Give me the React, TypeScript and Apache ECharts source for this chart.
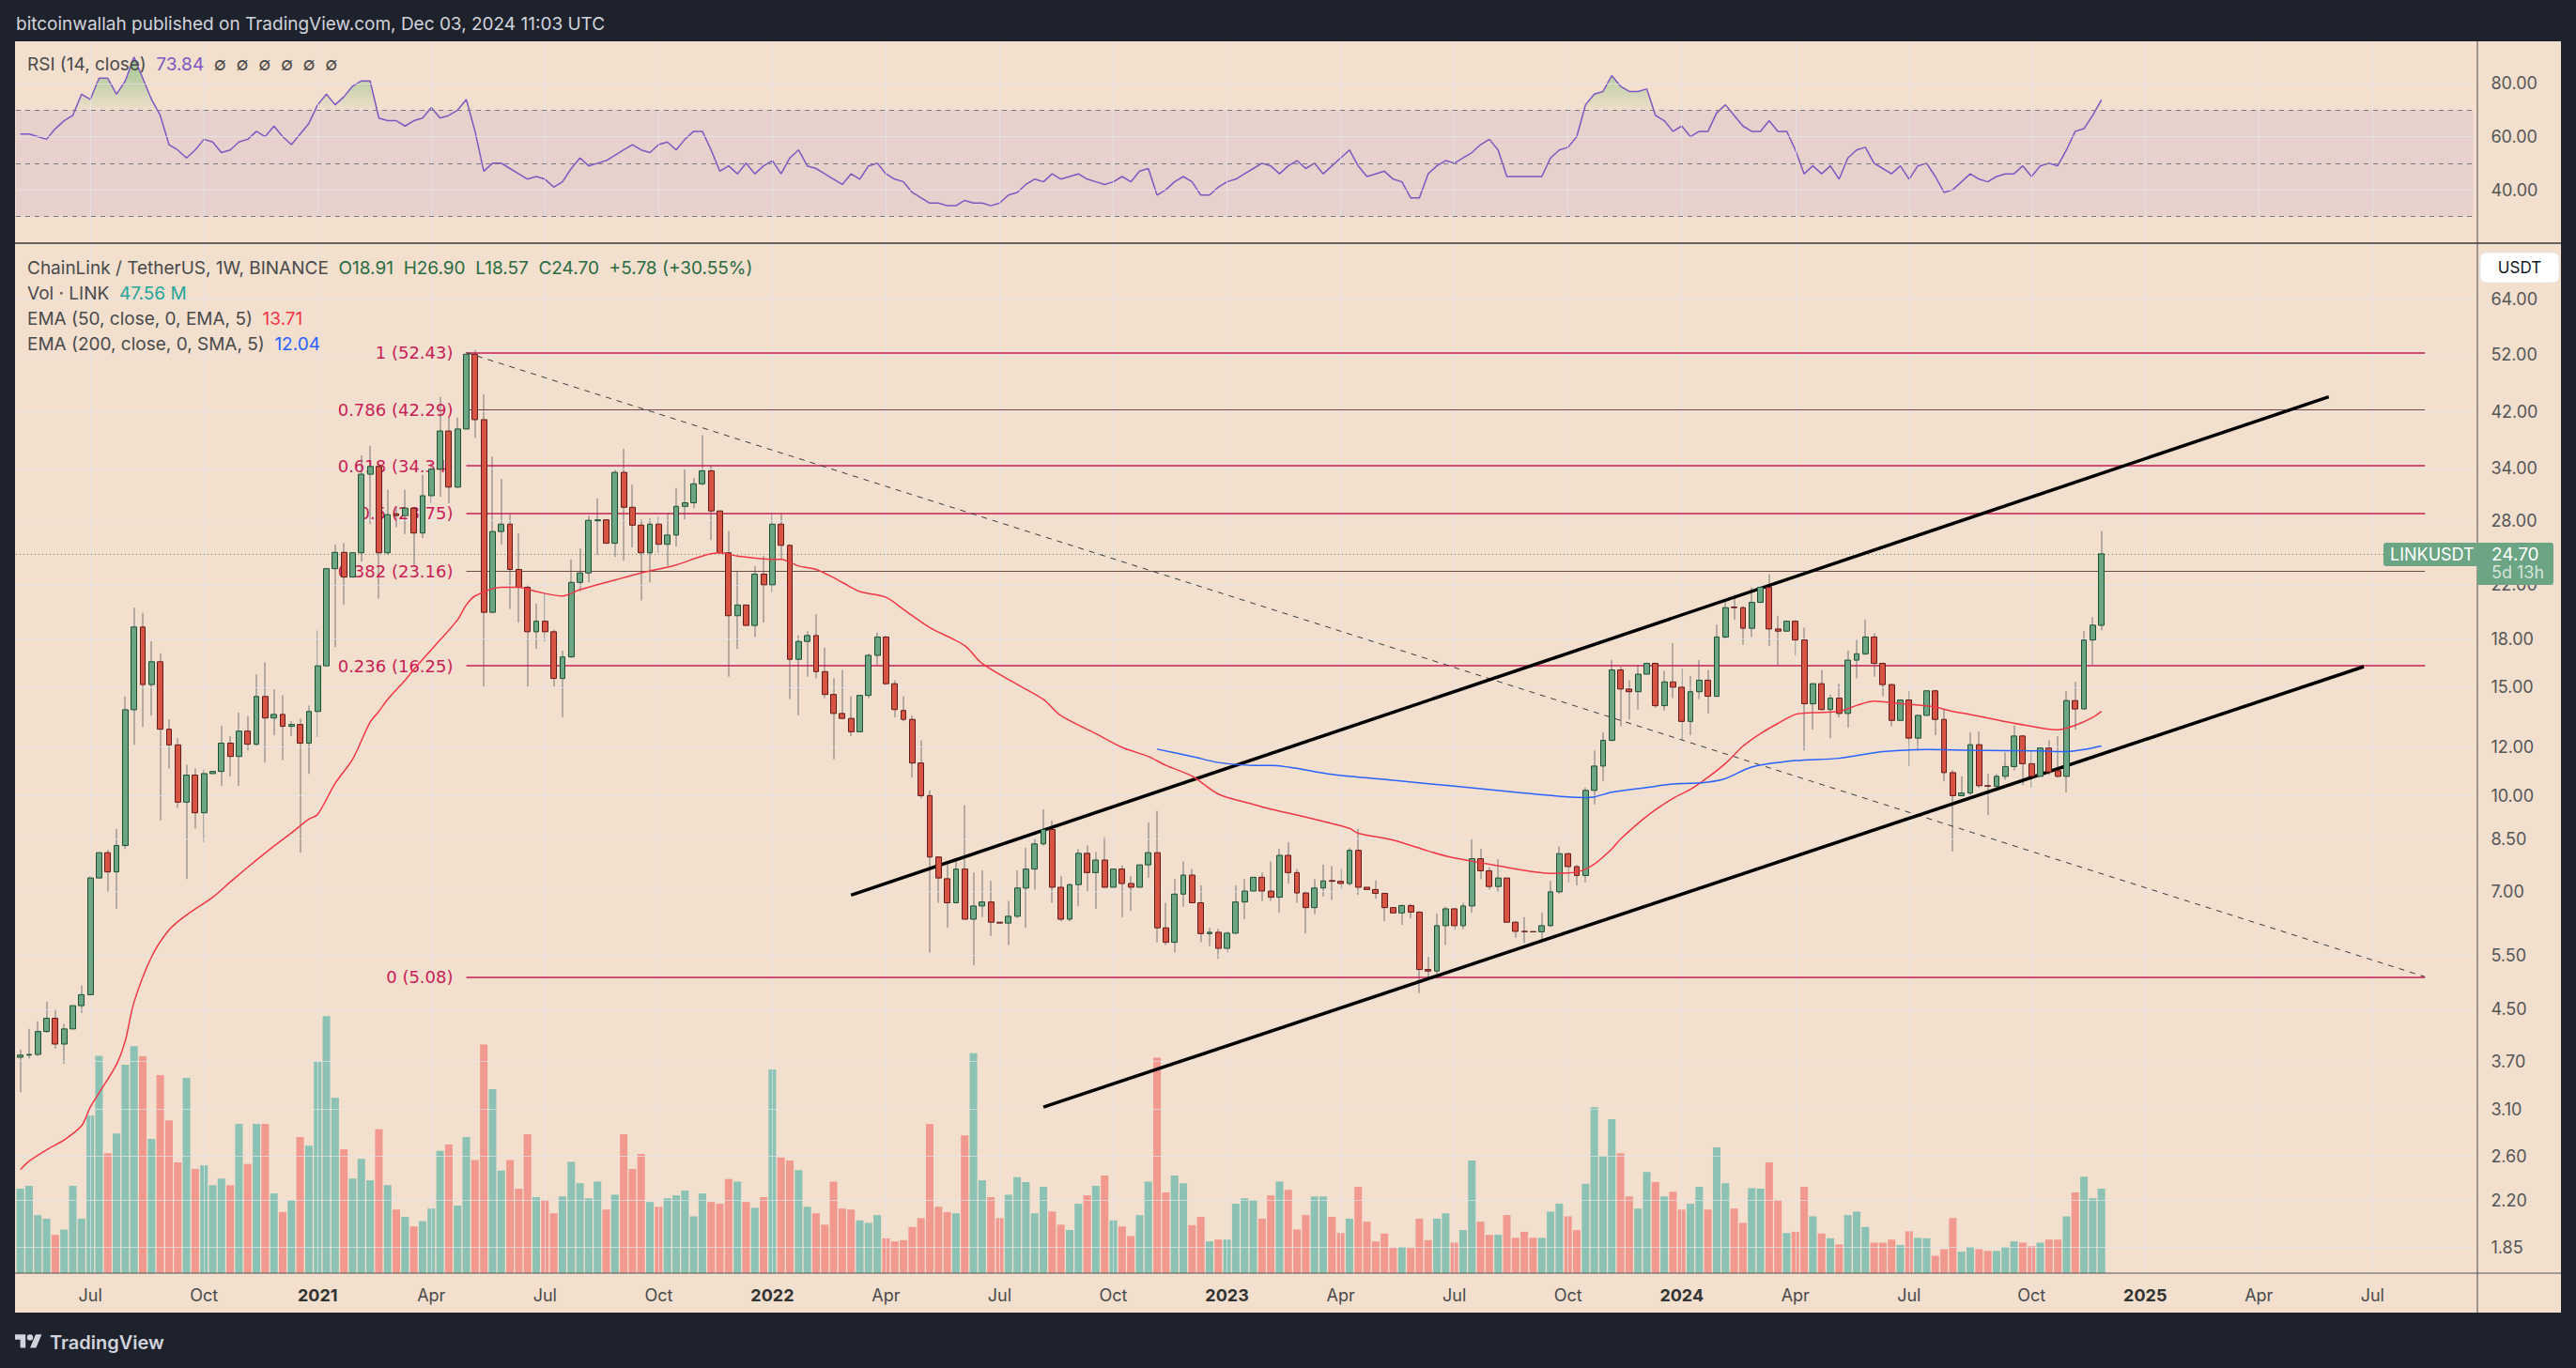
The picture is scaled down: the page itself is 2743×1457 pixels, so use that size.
import React, { useEffect, useRef } from "react";
import * as echarts from "echarts";

const W = 2743;
const H = 1457;
const FONT = "Inter, Roboto, sans-serif";
const BEIGE = "#f2dfce";
const DARK = "#1e222d";
const GRID_COLOR = "rgba(228,230,238,0.65)";
const UP = "#6ba583";
const DOWN = "#d75442";
const CRIMSON = "#c81e55";
const FIB_DARK = "#6d4a4a";

// ---------- data (weekly, from 2020-05-11) ----------
const START_UTC = Date.UTC(2020, 4, 11);
const N_WEEKS = 281;

const OPEN = [
  3.76, 3.79, 3.80, 4.14, 4.35, 3.95, 4.18, 4.56, 4.75, 7.35,
  8.08, 7.52, 8.30, 13.79, 18.79, 15.15, 16.50, 12.82, 12.09, 9.76,
  10.80, 9.38, 10.86, 10.95, 12.17, 11.58, 12.73, 12.12, 14.49, 13.37,
  13.55, 12.96, 13.05, 12.17, 13.70, 16.25, 23.37, 24.84, 22.65, 24.80,
  33.27, 34.25, 24.80, 28.70, 28.50, 29.30, 26.70, 30.70, 33.90, 39.10,
  31.70, 39.40, 52.10, 40.80, 19.85, 26.85, 27.60, 23.30, 21.80, 18.46,
  19.20, 18.46, 15.50, 16.80, 22.20, 23.00, 27.95, 28.05, 25.70, 33.50,
  29.40, 27.50, 24.80, 27.60, 25.60, 26.50, 29.50, 29.90, 32.10, 33.70,
  29.00, 24.80, 19.60, 20.40, 18.90, 22.90, 22.00, 27.60, 25.50, 16.65,
  17.80, 18.20, 15.90, 14.60, 13.60, 13.35, 12.70, 14.55, 16.90, 18.10,
  15.20, 13.75, 13.30, 11.30, 10.00, 7.95, 7.33, 6.70, 7.60, 6.30,
  6.62, 6.72, 6.23, 6.21, 6.37, 7.08, 7.60, 8.35, 8.81, 7.10,
  6.30, 7.17, 8.06, 7.50, 7.86, 7.10, 7.60, 7.20, 7.10, 7.72,
  8.08, 6.10, 5.78, 6.92, 7.43, 6.70, 5.97, 6.00, 5.65, 5.98,
  6.72, 7.00, 7.37, 7.00, 6.84, 8.00, 7.50, 6.95, 6.58, 7.08,
  7.28, 7.26, 7.20, 8.15, 7.10, 7.04, 6.94, 6.58, 6.45, 6.63,
  6.47, 5.22, 5.19, 6.15, 6.55, 6.15, 6.62, 7.90, 7.55, 7.12,
  7.35, 6.23, 6.02, 6.015, 6.01, 6.15, 6.98, 8.05, 7.67, 7.42,
  10.20, 11.17, 12.30, 16.00, 14.90, 14.75, 15.75, 16.40, 14.00, 15.30,
  15.00, 13.20, 14.75, 15.40, 14.50, 18.10, 20.25, 20.20, 18.70, 20.60,
  21.80, 18.65, 18.50, 19.20, 17.90, 14.10, 15.20, 13.80, 14.40, 13.60,
  16.60, 17.00, 18.10, 16.40, 15.15, 13.25, 14.30, 12.40, 13.50, 14.80,
  13.30, 10.90, 10.00, 10.10, 12.10, 10.38, 10.36, 10.75, 11.15, 12.50,
  11.27, 10.75, 11.95, 10.98, 10.75, 14.27, 13.83, 17.90, 18.91,
];

const HIGH = [
  3.87, 4.18, 4.30, 4.63, 4.50, 4.26, 4.97, 4.92, 7.40, 8.90,
  8.17, 8.83, 14.49, 20.20, 19.80, 17.81, 17.03, 13.30, 12.40, 11.23,
  11.07, 11.03, 11.84, 12.99, 12.49, 13.64, 13.46, 15.74, 16.46, 14.88,
  14.55, 13.20, 13.35, 14.00, 18.54, 23.70, 25.60, 25.70, 27.30, 35.70,
  37.00, 34.70, 31.40, 29.50, 31.40, 29.40, 33.20, 34.70, 44.40, 41.10,
  41.10, 52.50, 52.88, 44.80, 35.50, 32.70, 28.70, 26.70, 22.00, 20.50,
  21.30, 18.60, 17.20, 24.20, 25.20, 28.50, 30.40, 29.50, 33.80, 36.60,
  32.00, 28.10, 28.20, 28.40, 28.80, 31.60, 33.90, 32.80, 38.50, 34.40,
  29.10, 26.90, 23.20, 20.50, 23.60, 24.50, 28.70, 28.70, 25.60, 18.20,
  18.50, 19.70, 17.40, 15.50, 16.00, 14.50, 15.40, 17.00, 18.40, 18.20,
  15.40, 14.50, 13.50, 12.30, 10.20, 7.96, 7.75, 7.85, 9.65, 7.50,
  7.56, 7.27, 6.82, 6.75, 7.56, 8.23, 8.52, 9.50, 9.10, 7.40,
  7.20, 8.19, 8.30, 8.10, 8.56, 7.93, 7.70, 7.40, 7.90, 9.05,
  9.45, 6.70, 7.32, 7.82, 7.60, 7.15, 6.10, 6.08, 6.02, 7.15,
  7.32, 7.56, 7.50, 7.82, 8.20, 8.40, 7.60, 7.00, 7.32, 7.73,
  7.68, 7.60, 8.22, 8.83, 7.50, 7.28, 6.96, 6.82, 6.66, 6.67,
  6.49, 5.47, 6.43, 6.60, 6.58, 6.70, 8.50, 8.20, 7.65, 7.88,
  7.60, 6.25, 6.35, 6.48, 6.45, 7.27, 8.27, 8.10, 7.72, 10.30,
  11.84, 12.66, 16.60, 16.20, 15.40, 16.30, 17.40, 16.45, 15.95, 17.70,
  16.10, 15.65, 16.60, 16.00, 18.95, 20.70, 21.20, 20.30, 21.80, 21.90,
  22.90, 19.60, 21.00, 19.30, 18.75, 15.25, 16.00, 14.60, 15.20, 17.20,
  17.90, 19.30, 18.35, 16.45, 15.20, 14.70, 14.80, 13.55, 15.20, 14.85,
  13.80, 11.00, 10.75, 12.67, 12.70, 10.85, 10.85, 11.76, 13.00, 12.55,
  11.84, 12.00, 12.30, 12.50, 14.80, 15.30, 18.50, 19.50, 26.90,
];

const LOW = [
  3.30, 3.74, 3.78, 4.12, 3.88, 3.67, 4.17, 4.44, 4.74, 6.89,
  6.97, 6.55, 8.19, 12.09, 12.93, 13.49, 9.12, 11.07, 9.55, 7.32,
  8.83, 8.41, 10.31, 10.37, 10.75, 10.37, 11.84, 12.04, 11.32, 12.54,
  11.42, 12.50, 8.08, 10.85, 12.45, 12.56, 17.42, 20.40, 21.75, 24.00,
  27.60, 20.90, 24.60, 27.30, 26.60, 23.70, 26.20, 29.85, 30.60, 29.85,
  31.60, 38.80, 38.10, 15.05, 19.80, 25.60, 20.10, 19.10, 15.05, 17.30,
  17.80, 15.05, 13.40, 16.75, 21.50, 22.20, 24.60, 24.20, 24.40, 24.10,
  25.30, 20.75, 22.20, 24.80, 23.60, 25.40, 28.10, 29.30, 31.90, 26.00,
  22.80, 15.60, 17.30, 17.30, 18.10, 19.10, 21.40, 24.20, 14.35, 13.50,
  15.60, 15.50, 14.40, 11.45, 13.30, 12.50, 12.60, 14.40, 16.30, 15.10,
  13.40, 13.20, 10.70, 9.90, 5.56, 6.70, 6.10, 6.68, 6.30, 5.30,
  6.35, 5.92, 6.05, 5.72, 6.33, 6.10, 7.04, 8.30, 6.70, 6.25,
  6.25, 6.62, 6.98, 6.55, 7.08, 6.98, 6.35, 6.50, 6.80, 7.36,
  5.78, 5.72, 5.56, 6.60, 6.70, 5.78, 5.70, 5.43, 5.56, 5.96,
  6.30, 6.55, 6.75, 6.75, 6.45, 7.20, 6.70, 5.97, 6.42, 6.86,
  6.77, 7.07, 7.15, 6.90, 6.90, 6.80, 6.25, 6.36, 6.17, 6.32,
  4.78, 5.07, 5.04, 5.72, 6.05, 6.07, 6.46, 7.32, 7.04, 6.97,
  5.60, 5.88, 5.76, 5.99, 5.78, 6.12, 6.92, 7.23, 7.15, 7.23,
  9.68, 10.55, 12.25, 12.96, 13.30, 13.80, 14.70, 13.90, 13.75, 14.40,
  12.30, 12.54, 14.35, 13.60, 14.45, 17.95, 19.30, 17.60, 18.10, 16.60,
  17.50, 16.30, 18.45, 16.90, 11.84, 12.80, 13.75, 12.40, 13.40, 12.90,
  15.50, 16.90, 15.60, 14.50, 12.96, 12.73, 11.17, 11.84, 13.40, 12.54,
  10.55, 8.12, 9.98, 10.02, 10.30, 9.30, 10.30, 10.60, 10.98, 10.40,
  10.30, 10.65, 10.80, 10.70, 10.12, 12.80, 13.80, 16.30, 18.57,
];

const CLOSE = [
  3.79, 3.80, 4.14, 4.35, 3.95, 4.18, 4.56, 4.75, 7.35, 8.08,
  7.52, 8.30, 13.79, 18.79, 15.15, 16.50, 12.82, 12.09, 9.76, 10.80,
  9.38, 10.86, 10.95, 12.17, 11.58, 12.73, 12.12, 14.49, 13.37, 13.55,
  12.96, 13.05, 12.17, 13.70, 16.25, 23.37, 24.84, 22.65, 24.80, 33.27,
  34.25, 24.80, 28.60, 28.50, 29.30, 26.70, 30.70, 33.90, 39.10, 31.70,
  39.40, 52.10, 40.80, 19.85, 26.85, 27.60, 23.30, 21.80, 18.46, 19.20,
  18.46, 15.50, 16.80, 22.20, 23.00, 28.00, 28.05, 25.70, 33.50, 29.40,
  27.50, 24.80, 27.60, 25.60, 26.50, 29.50, 29.90, 32.10, 33.70, 29.00,
  24.80, 19.60, 20.40, 18.90, 22.90, 22.00, 27.60, 25.50, 16.65, 17.80,
  18.20, 15.90, 14.60, 13.60, 13.35, 12.70, 14.55, 16.90, 18.10, 15.20,
  13.80, 13.30, 11.30, 10.00, 7.95, 7.35, 6.70, 7.60, 6.30, 6.62,
  6.72, 6.23, 6.21, 6.37, 7.08, 7.60, 8.35, 8.81, 7.10, 6.30,
  7.17, 8.06, 7.50, 7.86, 7.10, 7.60, 7.20, 7.10, 7.72, 8.08,
  6.10, 5.78, 6.92, 7.43, 6.70, 5.97, 6.00, 5.65, 5.98, 6.72,
  7.00, 7.37, 7.00, 6.84, 8.00, 7.50, 6.95, 6.58, 7.08, 7.27,
  7.26, 7.20, 8.15, 7.10, 7.04, 6.94, 6.58, 6.45, 6.63, 6.47,
  5.22, 5.19, 6.15, 6.55, 6.15, 6.62, 7.90, 7.55, 7.12, 7.35,
  6.23, 6.02, 6.015, 6.01, 6.15, 6.98, 8.05, 7.67, 7.42, 10.20,
  11.17, 12.30, 16.00, 14.90, 14.75, 15.75, 16.40, 14.00, 15.30, 15.00,
  13.20, 14.75, 15.40, 14.50, 18.10, 20.20, 20.20, 18.70, 20.60, 21.80,
  18.65, 18.50, 19.20, 17.90, 14.10, 15.20, 13.80, 14.40, 13.60, 16.60,
  17.00, 18.10, 16.40, 15.15, 13.25, 14.30, 12.40, 13.50, 14.80, 13.30,
  10.90, 10.00, 10.10, 12.10, 10.38, 10.36, 10.75, 11.15, 12.50, 11.27,
  10.75, 11.95, 10.93, 10.75, 14.27, 13.83, 17.90, 18.92, 24.70,
];

// volume in millions of LINK
const VOLUME = [
  47.6, 49.2, 32.7, 30.7, 21.6, 24.6, 49.2, 30.7, 88.7, 122.4,
  67.5, 78.6, 117.4, 127.8, 122.1, 75.6, 111.6, 86.0, 62.4, 110.0,
  58.7, 60.7, 49.6, 53.3, 49.6, 84.0, 61.4, 84.0, 84.0, 44.9,
  34.4, 41.2, 76.6, 71.8, 119.1, 144.7, 98.8, 69.8, 53.3, 64.4,
  52.3, 81.0, 49.6, 35.8, 31.7, 26.3, 29.3, 36.4, 68.8, 72.5,
  38.1, 76.6, 63.7, 128.8, 103.6, 57.7, 63.7, 47.6, 78.3, 42.8,
  41.2, 33.7, 43.2, 62.7, 50.6, 42.2, 51.6, 35.8, 44.2, 78.3,
  58.7, 67.1, 40.1, 37.4, 42.2, 43.8, 46.5, 32.0, 44.9, 40.1,
  39.1, 53.0, 51.6, 40.1, 36.8, 42.8, 114.7, 65.1, 63.4, 58.0,
  37.4, 33.7, 27.3, 51.6, 36.4, 35.8, 29.7, 28.3, 32.7, 19.6,
  17.9, 18.6, 26.0, 31.0, 84.0, 37.4, 34.4, 33.7, 77.6, 123.8,
  52.3, 42.8, 31.0, 44.2, 54.0, 51.3, 33.7, 48.6, 34.7, 27.3,
  24.3, 39.1, 43.8, 49.2, 55.0, 29.7, 26.3, 20.9, 32.7, 51.6,
  121.4, 45.5, 55.0, 50.6, 27.0, 31.7, 17.9, 18.9, 18.9, 39.1,
  42.2, 41.2, 30.7, 43.8, 51.6, 46.9, 24.6, 32.7, 43.2, 43.2,
  31.7, 22.6, 30.7, 48.6, 29.0, 17.9, 22.3, 14.2, 14.8, 14.2,
  30.7, 18.6, 30.7, 33.7, 17.2, 24.3, 63.4, 29.0, 21.6, 21.6,
  32.7, 19.9, 23.3, 19.9, 19.9, 34.7, 39.1, 32.0, 24.3, 50.3,
  93.4, 66.1, 86.7, 67.5, 43.2, 36.4, 57.0, 51.3, 43.2, 45.9,
  35.8, 39.1, 48.6, 35.8, 70.8, 50.6, 36.4, 28.3, 47.9, 47.6,
  62.4, 41.2, 22.6, 23.3, 48.6, 32.0, 22.3, 19.6, 16.2, 32.7,
  34.7, 26.0, 17.2, 17.2, 18.9, 15.9, 23.6, 19.9, 19.6, 9.8,
  13.5, 31.0, 12.1, 14.8, 13.5, 12.5, 12.5, 14.8, 17.9, 17.2,
  15.2, 17.2, 18.9, 18.9, 32.0, 45.5, 54.3, 42.2, 47.56,
];

const RSI = [
  61, 61, 60, 59, 63, 66, 68, 76, 74, 82,
  82, 76, 81, 90, 82, 74, 68, 57, 55, 52,
  55, 59, 58, 54, 55, 58, 59, 62, 60, 64,
  60, 57, 61, 65, 72, 76, 72, 75, 79, 81,
  81, 67, 66, 66, 64, 66, 67, 71, 67, 68,
  70, 74, 62, 47, 50, 50, 48, 46, 44, 45,
  44, 41, 43, 48, 52, 49, 50, 51, 53, 55,
  57, 55, 54, 57, 58, 55, 59, 62, 62, 55,
  47, 49, 46, 50, 46, 49, 51, 46, 52, 55,
  49, 48, 46, 44, 42, 46, 44, 49, 50, 46,
  44, 43, 39, 37, 35, 35, 34, 34, 36, 35,
  35, 34, 35, 38, 39, 42, 44, 43, 46, 44,
  45, 46, 44, 43, 42, 43, 45, 43, 47, 48,
  38, 40, 43, 45, 43, 38, 38, 41, 43, 44,
  46, 48, 50, 49, 46, 49, 51, 48, 50, 46,
  49, 52, 55, 49, 45, 46, 47, 44, 43, 37,
  37, 46, 49, 51, 50, 52, 54, 57, 59, 55,
  45, 45, 45, 45, 45, 52, 55, 56, 60, 72,
  76, 77, 83, 79, 77, 77, 78, 68, 66, 62,
  64, 60, 62, 62, 69, 72, 68, 64, 62, 62,
  66, 62, 62, 55, 46, 49, 46, 49, 44, 52,
  55, 56, 50, 48, 46, 49, 44, 49, 50, 45,
  39, 40, 43, 46, 44, 43, 45, 46, 46, 49,
  45, 49, 50, 49, 55, 62, 63, 68, 73.84,
];

// [week index, value]
const EMA50 = [
  [0, 2.47], [1, 2.55], [3, 2.66], [5, 2.76], [7, 2.91], [8, 3.12], [9, 3.29], [11, 3.66],
  [12, 4.0], [13, 4.62], [15, 5.47], [17, 6.05], [19, 6.4], [22, 6.84], [24, 7.24], [26, 7.65],
  [29, 8.28], [31, 8.7], [33, 9.16], [34, 9.32], [36, 10.47], [38, 11.46], [40, 13.16], [41, 13.7],
  [42, 14.33], [44, 15.4], [45, 16.03], [47, 17.26], [48, 17.9], [50, 19.3], [51, 20.4], [52, 21.1],
  [55, 21.8], [57, 21.8], [59, 21.45], [62, 21.1], [64, 21.6], [68, 22.4], [71, 23.0], [75, 23.7],
  [78, 24.5], [80, 24.8], [82, 24.5], [86, 24.2], [87, 24.2], [89, 23.6], [91, 23.3], [93, 22.6],
  [94, 22.2], [96, 21.45], [99, 21.0], [101, 20.06], [104, 18.75], [108, 17.53], [110, 16.39],
  [114, 15.16], [117, 14.33], [119, 13.49], [123, 12.61], [126, 11.98], [129, 11.58], [131, 11.2],
  [134, 10.76], [137, 10.06], [141, 9.68], [143, 9.51], [146, 9.3], [152, 8.85], [153, 8.69],
  [157, 8.47], [161, 8.13], [164, 7.92], [168, 7.74], [171, 7.6], [175, 7.48], [177, 7.49],
  [178, 7.52], [179, 7.6], [180, 7.74], [181, 7.95], [182, 8.19], [183, 8.5], [186, 9.26],
  [189, 9.9], [191, 10.24], [193, 10.71], [195, 11.28], [197, 12.03], [199, 12.61], [201, 13.1],
  [203, 13.55], [205, 13.64], [208, 13.7], [210, 14.01], [212, 14.24], [215, 14.11], [219, 13.93],
  [221, 13.7], [223, 13.55], [227, 13.19], [230, 12.96], [233, 12.79], [235, 13.01], [237, 13.4],
  [238, 13.71],
];

const EMA200 = [
  [130, 11.9], [134, 11.58], [137, 11.32], [141, 11.2], [143, 11.2], [150, 10.83], [157, 10.59],
  [164, 10.36], [171, 10.13], [177, 9.95], [179, 9.93], [180, 9.95], [182, 10.13], [186, 10.31],
  [189, 10.45], [191, 10.47], [193, 10.52], [195, 10.66], [198, 11.13], [203, 11.4], [208, 11.5],
  [213, 11.79], [218, 11.88], [223, 11.85], [231, 11.82], [234, 11.79], [236, 11.88], [238, 12.04],
];

const PRICE_TICKS = [64, 52, 42, 34, 28, 22, 18, 15, 12, 10, 8.5, 7, 5.5, 4.5, 3.7, 3.1, 2.6, 2.2, 1.85];
const RSI_TICKS = [80, 60, 40];
const RSI_BANDS = [70, 50, 30];

const FIB_RATIOS = ["1", "0.786", "0.618", "0.5", "0.382", "0.236", "0"];
const FIB_PRICES = [52.43, 42.29, 34.34, 28.75, 23.16, 16.25, 5.08];
const FIB_START = 51;
const FIB_END = 275;
const CHANNEL_UPPER = [[95, 6.895], [264, 44.45]];
const CHANNEL_LOWER = [[117, 3.121], [268, 16.2]];

const SYMBOL_TEXT = "ChainLink / TetherUS, 1W, BINANCE";
const HEADER_TEXT = "bitcoinwallah published on TradingView.com, Dec 03, 2024 11:03 UTC";

// ---------- layout ----------
const GRID_LEFT = 17;
const BAND = 9.311;
const GRID_W = BAND * N_WEEKS;
const RSI_TOP = 44;
const RSI_H = 215;
const MAIN_TOP = 259;
const MAIN_H = 1097;
const AXIS_X = 2638;
const PANEL_R = 2727;
const PANEL_B = 1398;

const CATS = Array.from({ length: N_WEEKS }, (_, i) =>
  new Date(START_UTC + i * 7 * 86400000).toISOString().slice(0, 10)
);
const monthOf = (i: number) => Number(CATS[i].slice(5, 7)) - 1;
const LABEL_IDX = CATS.map((_, i) => i).filter(
  (i) => i > 0 && monthOf(i) % 3 === 0 && monthOf(i) !== monthOf(i - 1)
);
const LABEL_SET = new Set(LABEL_IDX);
const MONTH_NAMES = { 3: "Apr", 6: "Jul", 9: "Oct" } as Record<number, string>;

const TV_LOGO_PATH =
  "M14 22H7V11H0V4h14v18zM28 22h-8l7.5-18h8L28 22zM24 8a4 4 0 1 1 -8 0a4 4 0 1 1 8 0z";
echarts.graphic.registerShape("tvlogo", echarts.graphic.extendPath(TV_LOGO_PATH, {}));

function buildOption() {
  const n = CLOSE.length;
  const wickData = LOW.map((l, i) => [l, HIGH[i], l, HIGH[i]]);
  const bodyData = OPEN.map((o, i) => [o, CLOSE[i], Math.min(o, CLOSE[i]), Math.max(o, CLOSE[i])]);
  const volData = VOLUME.map((v, i) => ({
    value: v,
    itemStyle: { color: CLOSE[i] >= OPEN[i] ? "rgba(38,166,154,0.5)" : "rgba(239,83,80,0.5)" },
  }));
  const axisLabelStyle = { color: "#555", fontSize: 18, fontFamily: FONT };

  const vertical = LABEL_IDX.map((i) => ({ xAxis: i, label: { show: false } }));

  const fibLines: any[] = FIB_PRICES.map((v, k) => {
    const dark = FIB_RATIOS[k] === "0.786" || FIB_RATIOS[k] === "0.382";
    return [
      {
        coord: [FIB_START, v],
        lineStyle: { color: dark ? FIB_DARK : CRIMSON, width: dark ? 1 : 1.5, type: "solid" },
        label: {
          show: true,
          position: "start",
          distance: 14,
          formatter: `${FIB_RATIOS[k]} (${v.toFixed(2)})`,
          color: CRIMSON,
          fontSize: 18,
          fontFamily: "DejaVu Sans, sans-serif",
        },
      },
      { coord: [FIB_END, v] },
    ];
  });
  fibLines.push([
    {
      coord: [FIB_START, FIB_PRICES[0]],
      lineStyle: { color: "#3a3a3a", width: 1, type: [6, 6] },
      label: { show: false },
    },
    { coord: [FIB_END, FIB_PRICES[FIB_PRICES.length - 1]] },
  ]);

  const channel = [CHANNEL_UPPER, CHANNEL_LOWER].map((c) => [
    { coord: c[0], lineStyle: { color: "#000", width: 3.5, type: "solid" }, label: { show: false } },
    { coord: c[1] },
  ]);

  return {
    animation: false,
    backgroundColor: BEIGE,
    grid: [
      { left: GRID_LEFT, top: RSI_TOP, width: GRID_W, height: RSI_H },
      { left: GRID_LEFT, top: MAIN_TOP, width: GRID_W, height: MAIN_H },
    ],
    xAxis: [
      { type: "category", gridIndex: 0, data: CATS, boundaryGap: true, show: false },
      {
        type: "category",
        gridIndex: 1,
        data: CATS,
        boundaryGap: true,
        axisLine: { show: false },
        axisTick: { show: false },
        splitLine: { show: false },
        axisLabel: {
          interval: (i: number) => LABEL_SET.has(i),
          formatter: (v: string, i: number) => {
            const m = monthOf(i);
            return m === 0 ? `{y|${v.slice(0, 4)}}` : MONTH_NAMES[m];
          },
          color: "#4a4a4a",
          fontSize: 18,
          fontFamily: FONT,
          margin: 14,
          rich: { y: { fontWeight: "bold", color: "#333", fontSize: 18, fontFamily: FONT } },
        },
      },
    ],
    yAxis: [
      { type: "value", gridIndex: 0, min: 19.9, max: 95.9, show: false, splitLine: { show: false } },
      { type: "log", gridIndex: 1, min: 1.677, max: 78.93, logBase: 10, show: false, splitLine: { show: false } },
      { type: "value", gridIndex: 1, min: 0, max: 580, show: false, splitLine: { show: false } },
    ],
    series: [
      // RSI pane grid, band and ticks
      {
        type: "line",
        xAxisIndex: 0,
        yAxisIndex: 0,
        data: [],
        z: 1,
        silent: true,
        clip: false,
        markArea: {
          silent: true,
          itemStyle: { color: "rgba(126,87,194,0.1)" },
          data: [[{ yAxis: RSI_BANDS[2] }, { yAxis: RSI_BANDS[0] }]],
        },
        markLine: {
          silent: true,
          symbol: ["none", "none"],
          animation: false,
          lineStyle: { color: GRID_COLOR, width: 1, type: "solid" },
          label: { show: true, position: "end", distance: 19, ...axisLabelStyle },
          data: [
            ...RSI_TICKS.map((v) => ({ yAxis: v, label: { formatter: v.toFixed(2) } })),
            ...vertical,
            ...RSI_BANDS.map((v) => ({
              yAxis: v,
              label: { show: false },
              lineStyle: { color: "#787b86", width: 1, type: [5, 5] },
            })),
          ],
        },
      },
      {
        type: "line",
        xAxisIndex: 0,
        yAxisIndex: 0,
        data: RSI.map((v) => Math.max(v, 70)),
        symbol: "none",
        silent: true,
        z: 2,
        lineStyle: { width: 0, opacity: 0 },
        areaStyle: {
          origin: 70,
          color: new echarts.graphic.LinearGradient(0, 0, 0, 1, [
            { offset: 0, color: "rgba(76,175,80,0.75)" },
            { offset: 1, color: "rgba(76,175,80,0.03)" },
          ]),
        },
      },
      {
        type: "line",
        xAxisIndex: 0,
        yAxisIndex: 0,
        data: RSI,
        symbol: "none",
        silent: true,
        z: 3,
        lineStyle: { color: "#7e57c2", width: 1.5 },
      },
      // main pane grid and ticks
      {
        type: "line",
        xAxisIndex: 1,
        yAxisIndex: 1,
        data: [],
        z: 1,
        silent: true,
        clip: false,
        markLine: {
          silent: true,
          symbol: ["none", "none"],
          animation: false,
          lineStyle: { color: GRID_COLOR, width: 1, type: "solid" },
          label: { show: true, position: "end", distance: 19, ...axisLabelStyle },
          data: [
            ...PRICE_TICKS.map((v) => ({ yAxis: v, label: { formatter: v.toFixed(2) } })),
            ...vertical,
            {
              yAxis: CLOSE[n - 1],
              label: { show: false },
              lineStyle: { color: "rgba(50,110,75,0.8)", width: 1, type: [1, 3] },
            },
          ],
        },
      },
      {
        type: "bar",
        xAxisIndex: 1,
        yAxisIndex: 2,
        data: volData,
        barWidth: "86%",
        silent: true,
        z: 2,
      },
      // fibonacci retracement
      {
        type: "line",
        xAxisIndex: 1,
        yAxisIndex: 1,
        data: [],
        z: 3,
        silent: true,
        clip: false,
        markLine: { silent: true, symbol: ["none", "none"], animation: false, data: fibLines },
      },
      {
        type: "candlestick",
        xAxisIndex: 1,
        yAxisIndex: 1,
        data: wickData,
        barWidth: 1.4,
        large: false,
        silent: true,
        z: 4,
        itemStyle: { color: "#767676", color0: "#767676", borderWidth: 0, borderColor: "#767676", borderColor0: "#767676" },
      },
      {
        type: "candlestick",
        xAxisIndex: 1,
        yAxisIndex: 1,
        data: bodyData,
        barWidth: "68%",
        large: false,
        silent: true,
        z: 5,
        itemStyle: {
          color: UP,
          color0: DOWN,
          borderColor: "#1e5032",
          borderColor0: "#64191a",
          borderWidth: 1,
        },
      },
      {
        type: "line",
        xAxisIndex: 1,
        yAxisIndex: 1,
        data: EMA50,
        symbol: "none",
        smooth: 0.3,
        silent: true,
        z: 6,
        lineStyle: { color: "#f23645", width: 1.5 },
      },
      {
        type: "line",
        xAxisIndex: 1,
        yAxisIndex: 1,
        data: EMA200,
        symbol: "none",
        smooth: 0.3,
        silent: true,
        z: 6,
        lineStyle: { color: "#2962ff", width: 1.5 },
      },
      {
        type: "line",
        xAxisIndex: 1,
        yAxisIndex: 1,
        data: [],
        z: 7,
        silent: true,
        clip: false,
        markLine: { silent: true, symbol: ["none", "none"], animation: false, data: channel },
      },
    ],
  };
}

function buildGraphic(yPrice: number) {
  const n = CLOSE.length;
  const last = CLOSE[n - 1];
  const prev = CLOSE[n - 2];
  const chg = last - prev;
  const pct = (chg / prev) * 100;
  const G = "#4a4a4a";
  const V = "#2a6b41";
  const legendBase = { fontSize: 19, fontFamily: FONT, fill: G };
  const text = (id: string, x: number, y: number, t: string, rich: any, extra: any = {}) => ({
    type: "text",
    id,
    x,
    y,
    z: 100,
    silent: true,
    style: { text: t, ...legendBase, verticalAlign: "middle", align: "left", rich, ...extra },
  });
  const rich = {
    g: { fill: G, fontSize: 19, fontFamily: FONT },
    v: { fill: V, fontSize: 19, fontFamily: FONT },
    t: { fill: "#26a69a", fontSize: 19, fontFamily: FONT },
    r: { fill: "#f23645", fontSize: 19, fontFamily: FONT },
    b: { fill: "#2962ff", fontSize: 19, fontFamily: FONT },
    p: { fill: "#7e57c2", fontSize: 19, fontFamily: FONT },
  };
  const f2 = (v: number) => v.toFixed(2);
  return [
    // dark frame
    { type: "rect", id: "fTop", z: 90, silent: true, shape: { x: 0, y: 0, width: W, height: RSI_TOP }, style: { fill: DARK } },
    { type: "rect", id: "fLeft", z: 90, silent: true, shape: { x: 0, y: 0, width: 16, height: H }, style: { fill: DARK } },
    { type: "rect", id: "fRight", z: 90, silent: true, shape: { x: PANEL_R, y: 0, width: W - PANEL_R, height: H }, style: { fill: DARK } },
    { type: "rect", id: "fBottom", z: 90, silent: true, shape: { x: 0, y: PANEL_B, width: W, height: H - PANEL_B }, style: { fill: DARK } },
    // separators
    { type: "line", id: "sepAxis", z: 95, silent: true, shape: { x1: AXIS_X, y1: RSI_TOP, x2: AXIS_X, y2: PANEL_B }, style: { stroke: "#4d4d4d", lineWidth: 1 } },
    { type: "line", id: "sepPane", z: 95, silent: true, shape: { x1: 16, y1: MAIN_TOP, x2: PANEL_R, y2: MAIN_TOP }, style: { stroke: "#3a3a3a", lineWidth: 1.5 } },
    { type: "line", id: "sepTime", z: 95, silent: true, shape: { x1: 16, y1: MAIN_TOP + MAIN_H, x2: PANEL_R, y2: MAIN_TOP + MAIN_H }, style: { stroke: "#555", lineWidth: 1 } },
    // header
    {
      type: "text", id: "header", x: 17, y: 25, z: 100, silent: true,
      style: { text: HEADER_TEXT, fill: "#d1d4dc", fontSize: 19, fontFamily: FONT, verticalAlign: "middle" },
    },
    // legends
    text("lgRsi", 29, 68, `{g|RSI (14, close)}  {p|${f2(RSI[n - 1])}}  {g|∅  ∅  ∅  ∅  ∅  ∅}`, rich),
    text(
      "lg1", 29, 285,
      `{g|${SYMBOL_TEXT}}  {v|O${f2(OPEN[n - 1])}}  {v|H${f2(HIGH[n - 1])}}  {v|L${f2(LOW[n - 1])}}  {v|C${f2(last)}}  {v|${chg >= 0 ? "+" : ""}${f2(chg)} (${pct >= 0 ? "+" : ""}${f2(pct)}%)}`,
      rich
    ),
    text("lg2", 29, 312, `{g|Vol · LINK}  {t|${f2(VOLUME[n - 1])} M}`, rich),
    text("lg3", 29, 339, `{g|EMA (50, close, 0, EMA, 5)}  {r|${f2(EMA50[EMA50.length - 1][1])}}`, rich),
    text("lg4", 29, 366, `{g|EMA (200, close, 0, SMA, 5)}  {b|${f2(EMA200[EMA200.length - 1][1])}}`, rich),
    // currency button
    { type: "rect", id: "usdtBox", z: 100, silent: true, shape: { x: 2641, y: 269, width: 84, height: 32, r: 6 }, style: { fill: "#ffffff", stroke: "#e6e6e6" } },
    {
      type: "text", id: "usdtTxt", x: 2683, y: 285, z: 101, silent: true,
      style: { text: "USDT", fill: "#131722", fontSize: 17, fontFamily: FONT, align: "center", verticalAlign: "middle" },
    },
    // last price tags
    { type: "rect", id: "symBox", z: 100, silent: true, shape: { x: 2538, y: yPrice - 12, width: 100, height: 25, r: [3, 0, 0, 3] }, style: { fill: UP } },
    {
      type: "text", id: "symTxt", x: 2545, y: yPrice + 0.5, z: 101, silent: true,
      style: { text: "LINKUSDT", fill: "#ffffff", fontSize: 18, fontFamily: FONT, verticalAlign: "middle" },
    },
    { type: "rect", id: "pxBox", z: 100, silent: true, shape: { x: AXIS_X, y: yPrice - 12, width: 81, height: 45, r: [0, 3, 3, 0] }, style: { fill: UP } },
    {
      type: "text", id: "pxTxt", x: 2653, y: yPrice + 0.5, z: 101, silent: true,
      style: { text: f2(last), fill: "#ffffff", fontSize: 19, fontFamily: FONT, verticalAlign: "middle" },
    },
    {
      type: "text", id: "cdTxt", x: 2653, y: yPrice + 20, z: 101, silent: true,
      style: { text: "5d 13h", fill: "rgba(255,255,255,0.72)", fontSize: 18, fontFamily: FONT, verticalAlign: "middle" },
    },
    // footer logo
    { type: "tvlogo", id: "logo", x: 16, y: 1418, scaleX: 0.8, scaleY: 0.8, z: 100, silent: true, style: { fill: "#d1d4dc" } },
    {
      type: "text", id: "logoTxt", x: 53, y: 1430, z: 100, silent: true,
      style: { text: "TradingView", fill: "#d1d4dc", fontSize: 20, fontWeight: 600, fontFamily: FONT, verticalAlign: "middle" },
    },
  ];
}

export default function App() {
  const ref = useRef<HTMLDivElement>(null);
  useEffect(() => {
    if (!ref.current) return;
    const chart = echarts.init(ref.current, null, { renderer: "svg", width: W, height: H });
    chart.setOption(buildOption() as any);
    const yPrice = chart.convertToPixel({ yAxisIndex: 1 } as any, CLOSE[CLOSE.length - 1]) as unknown as number;
    chart.setOption({ graphic: buildGraphic(yPrice) } as any);
    return () => chart.dispose();
  }, []);
  return <div ref={ref} style={{ position: "absolute", left: 0, top: 0, width: W, height: H }} />;
}
